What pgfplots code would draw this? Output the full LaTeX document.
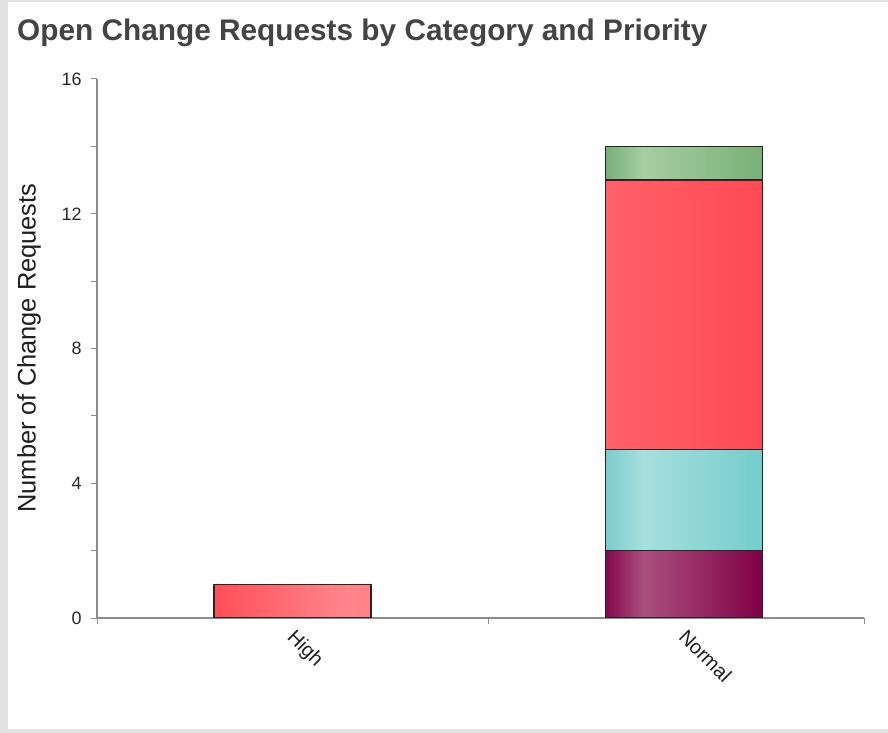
\documentclass[border=0pt]{standalone}
\usepackage{pgfplots}
\pgfplotsset{compat=1.18}
\usepackage{fontspec}
\setmainfont{Liberation Sans}
\definecolor{redL}{RGB}{255,78,88}
\definecolor{redM}{RGB}{255,134,140}
\definecolor{redR}{RGB}{255,74,84}
\definecolor{grnL}{RGB}{120,174,120}
\definecolor{grnM}{RGB}{166,206,162}
\definecolor{grnR}{RGB}{120,177,118}
\definecolor{teaL}{RGB}{124,204,204}
\definecolor{teaM}{RGB}{166,223,221}
\definecolor{teaR}{RGB}{116,205,204}
\definecolor{purL}{RGB}{134,6,76}
\definecolor{purM}{RGB}{170,80,126}
\definecolor{purR}{RGB}{128,0,70}
\definecolor{frameg}{RGB}{226,226,226}
\definecolor{axisc}{RGB}{140,140,140}
\definecolor{titlec}{RGB}{68,68,68}
\definecolor{labc}{RGB}{30,30,30}
\definecolor{tickc}{RGB}{40,40,40}
\pgfdeclarehorizontalshading{redbar}{100bp}{color(0bp)=(redL); color(25bp)=(redL); color(37bp)=(redM); color(75bp)=(redR); color(100bp)=(redR)}
\pgfdeclarehorizontalshading{grnbar}{100bp}{color(0bp)=(grnL); color(25bp)=(grnL); color(37bp)=(grnM); color(75bp)=(grnR); color(100bp)=(grnR)}
\pgfdeclarehorizontalshading{teabar}{100bp}{color(0bp)=(teaL); color(25bp)=(teaL); color(37bp)=(teaM); color(75bp)=(teaR); color(100bp)=(teaR)}
\pgfdeclarehorizontalshading{purbar}{100bp}{color(0bp)=(purL); color(25bp)=(purL); color(37bp)=(purM); color(75bp)=(purR); color(100bp)=(purR)}
\begin{document}
\begin{tikzpicture}
\useasboundingbox (0bp,0bp) rectangle (888bp,733bp);
\fill[frameg] (0bp,0bp) rectangle (888bp,733bp);
\fill[white] (8bp,4bp) rectangle (888bp,731bp);
\node[anchor=base west, font=\fontsize{29.9}{35}\selectfont\bfseries, text=titlec, inner sep=0] at (17bp,692bp) {Open Change Requests by Category and Priority};
\node[rotate=90, font=\fontsize{25.5}{30}\selectfont, text=labc, inner sep=0] at (29bp,385bp) {Number of Change Requests};
\begin{axis}[at={(97bp,115bp)}, anchor=south west, scale only axis,
  width=767bp, height=539bp,
  xmin=-0.5, xmax=1.46, ymin=0, ymax=16,
  axis lines=left,
  axis line style={-, draw=axisc, line width=1.2bp},
  ybar stacked, bar width=157bp,
  ytick={0,4,8,12,16}, minor ytick={2,6,10,14},
  tick align=outside,
  major tick length=6bp, minor tick length=6bp,
  tick style={draw=axisc, line width=1bp},
  yticklabel style={font=\fontsize{18}{21}\selectfont, text=tickc, xshift=-6bp},
  /pgf/number format/assume math mode=true,
  xtick={-0.5,0.5,1.46}, xticklabels={},
  extra x ticks={0,1}, extra x tick labels={High,Normal},
  extra x tick style={major tick length=0pt,
    tick label style={xshift=4bp, yshift=-5bp, rotate=-45, anchor=north west, font=\fontsize{20}{23}\selectfont, text=labc}},
]
\addplot[shade, shading=purbar, draw=black!85, line width=1.4bp] coordinates {(0,0) (1,2)};
\addplot[shade, shading=teabar, draw=black!85, line width=1.4bp] coordinates {(0,0) (1,3)};
\addplot[shade, shading=redbar, draw=black!85, line width=1.4bp] coordinates {(0,1) (1,8)};
\addplot[shade, shading=grnbar, draw=black!85, line width=1.4bp] coordinates {(0,0) (1,1)};
\end{axis}
\end{tikzpicture}
\end{document}
